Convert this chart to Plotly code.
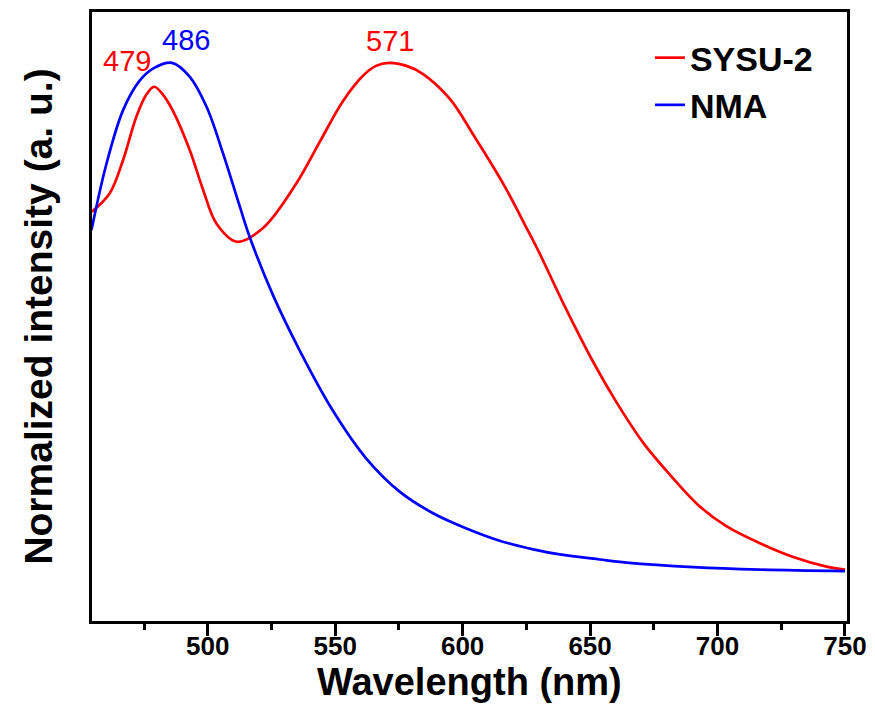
import plotly.graph_objects as go

# Emission spectra (normalized intensity vs wavelength)
sysu_wl = [454.5, 461.5, 466.8, 472.0, 476.0, 479.0, 482.5, 486.4, 492.9, 498.2,
           503.4, 511.5, 521.7, 534.8, 544.0, 553.1, 561.0, 566.0, 571.0, 578.0,
           584.5, 595.0, 604.5, 616.5, 625.1, 630.3, 639.5, 651.3, 660.4, 670.8,
           681.3, 693.1, 703.6, 716.6, 729.7, 742.8, 750.0]
sysu_int = [0.707, 0.743, 0.809, 0.894, 0.938, 0.953, 0.937, 0.905, 0.829, 0.750,
            0.684, 0.648, 0.675, 0.763, 0.845, 0.925, 0.975, 0.994, 1.000, 0.994,
            0.978, 0.929, 0.856, 0.757, 0.675, 0.624, 0.527, 0.411, 0.332, 0.253,
            0.190, 0.127, 0.088, 0.055, 0.028, 0.009, 0.003]

nma_wl = [454.4, 460.2, 466.8, 473.3, 479.0, 486.0, 492.9, 499.5, 506.0, 512.6,
          516.5, 525.6, 536.1, 549.2, 562.3, 575.4, 588.4, 601.5, 614.5, 627.7,
          638.1, 653.8, 664.3, 690.5, 716.6, 750.0]
nma_int = [0.671, 0.800, 0.907, 0.965, 0.990, 1.000, 0.973, 0.914, 0.822, 0.717,
           0.657, 0.543, 0.434, 0.315, 0.221, 0.156, 0.114, 0.084, 0.060, 0.043,
           0.033, 0.023, 0.017, 0.008, 0.003, 0.000]

# Peak labels: (wavelength, series, colour, x-shift, y-shift in px)
peaks = [(479.0, "SYSU-2", "#ff0000", -27, 26),
         (486.0, "NMA", "#0000ff", 14, 23),
         (571.0, "SYSU-2", "#ff0000", 1, 22)]

x_ticks = [500, 550, 600, 650, 700, 750]

RED = "#ff0000"
BLUE = "#0000ff"
FONT = "Liberation Sans, Arial, sans-serif"

fig = go.Figure()
fig.add_trace(go.Scatter(x=sysu_wl, y=sysu_int, mode="lines", name="SYSU-2",
                         line=dict(color=RED, width=2.7, shape="spline", smoothing=1.0)))
fig.add_trace(go.Scatter(x=nma_wl, y=nma_int, mode="lines", name="NMA",
                         line=dict(color=BLUE, width=2.7, shape="spline", smoothing=1.0)))

series = {"SYSU-2": (sysu_wl, sysu_int), "NMA": (nma_wl, nma_int)}
for wl, name, col, dx, dy in peaks:
    xs, ys = series[name]
    y = ys[xs.index(wl)]
    fig.add_annotation(x=wl, y=y, text=f"{wl:g}", showarrow=False,
                       xshift=dx, yshift=dy,
                       font=dict(family=FONT, size=29, color=col))

# x-axis title placed just under the tick labels
fig.add_annotation(x=0.5, y=-0.1, xref="paper", yref="paper",
                   xanchor="center", yanchor="middle", showarrow=False,
                   text="Wavelength (nm)",
                   font=dict(family=FONT, size=38, color="black", weight="bold"))

fig.update_layout(
    width=875, height=726,
    margin=dict(l=92, r=28, t=12, b=105),
    paper_bgcolor="white", plot_bgcolor="white",
    showlegend=True,
    legend=dict(x=0.739, y=0.972, xanchor="left", yanchor="top",
                bgcolor="rgba(0,0,0,0)", borderwidth=0,
                font=dict(family=FONT, size=34, color="black", weight="bold"),
                tracegroupgap=0),
)
fig.update_xaxes(
    range=[454.6, 750.8], tickvals=x_ticks, ticks="outside", ticklen=12, tickwidth=2.5,
    tickcolor="black", showline=True, linecolor="black", linewidth=3, mirror=True,
    showgrid=False, zeroline=False, automargin=False, ticklabelstandoff=-12,
    minor=dict(dtick=50, tick0=475, ticks="outside", ticklen=6, tickwidth=2.5, tickcolor="black"),
    tickfont=dict(family=FONT, size=26, color="black", weight="bold"),
)
fig.update_yaxes(
    range=[-0.098, 1.100], showticklabels=False, ticks="",
    showline=True, linecolor="black", linewidth=3, mirror=True,
    showgrid=False, zeroline=False, automargin=False,
    title=dict(text="Normalized intensity (a. u.)", standoff=25,
               font=dict(family=FONT, size=39, color="black", weight="bold")),
)

fig.write_html("out.html")
